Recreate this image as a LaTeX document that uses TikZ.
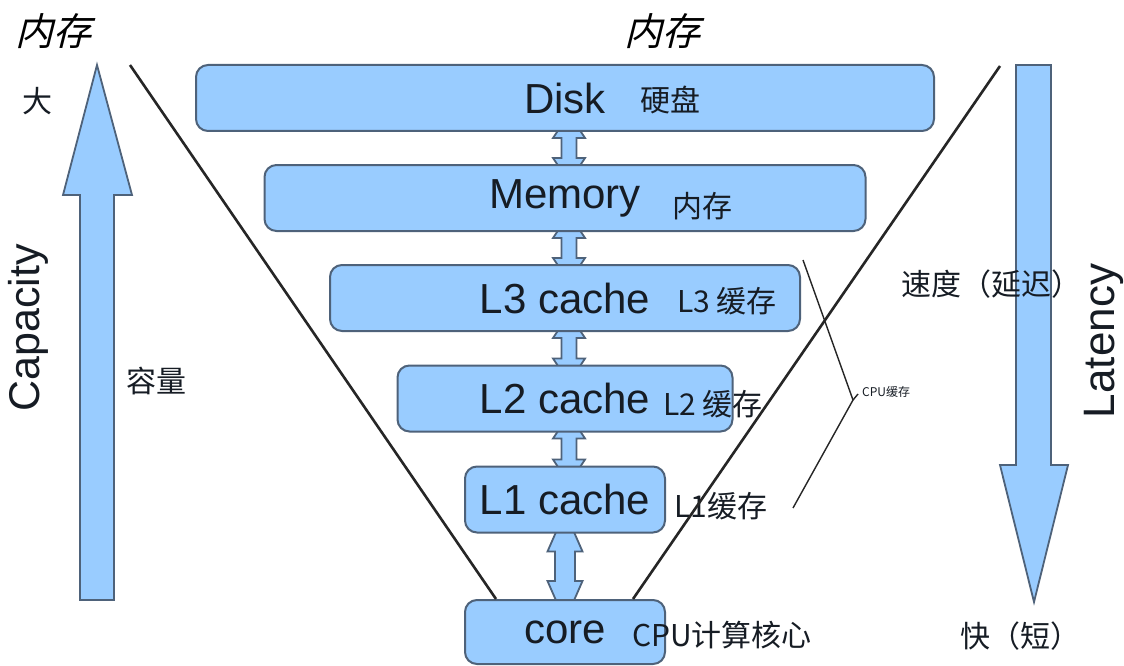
\documentclass[tikz,border=0pt]{standalone}
\usepackage{fontspec}
\setmainfont{Liberation Sans}
\newfontfamily\cjk{Noto Sans CJK SC}
\newfontfamily\cjkit[FakeSlant=0.25]{Noto Sans CJK SC}
\usetikzlibrary{calc}
\pgfdeclarelayer{paper}
\pgfdeclarelayer{background}
\pgfsetlayers{paper,background,main}

\definecolor{boxfill}{RGB}{153,204,255}
\definecolor{boxline}{RGB}{78,98,122}
\definecolor{ink}{RGB}{22,28,36}

% two-headed link between a box and the one below it; the tips sit inside the boxes
% #1 upper node, #2 lower node, #3 x shift, #4 shaft half width, #5 head half width,
% #6 head length, #7 tip depth inside the box
\newcommand\linkarrow[7]{%
  \draw[flow] let \p1=(#1.south), \p2=(#2.north) in
    (\x1+#3pt, \y1+#7pt)
    -- (\x1+#3pt+#5pt, \y1+#7pt-#6pt)
    -- (\x1+#3pt+#4pt, \y1+#7pt-#6pt)
    -- (\x1+#3pt+#4pt, \y2-#7pt+#6pt)
    -- (\x1+#3pt+#5pt, \y2-#7pt+#6pt)
    -- (\x1+#3pt, \y2-#7pt)
    -- (\x1+#3pt-#5pt, \y2-#7pt+#6pt)
    -- (\x1+#3pt-#4pt, \y2-#7pt+#6pt)
    -- (\x1+#3pt-#4pt, \y1+#7pt-#6pt)
    -- (\x1+#3pt-#5pt, \y1+#7pt-#6pt)
    -- cycle;}

\tikzset{
  level/.style={draw=boxline, line width=2pt, fill=boxfill, rounded corners=12pt,
    minimum height=66pt, inner sep=0pt, text=ink,
    font=\fontsize{42}{42}\selectfont},
  flow/.style={draw=boxline, line width=1.8pt, fill=boxfill, line join=miter},
  cjklab/.style={text=ink, inner sep=0pt, font=\cjk\fontsize{30}{30}\selectfont},
  biglab/.style={text=ink, inner sep=0pt},
  toplab/.style={text=black, inner sep=0pt, font=\cjkit\fontsize{38}{38}\selectfont},
  funnel/.style={draw=black!85, line width=2.6pt},
  brace/.style={draw=black!85, line width=1.4pt},
}

\begin{document}
\begin{tikzpicture}[x=1pt, y=-1pt]
\useasboundingbox (0,0) rectangle (1124,666);
\begin{pgfonlayer}{paper}
  \fill[white] (0,0) rectangle (1124,666);
\end{pgfonlayer}

% memory hierarchy boxes
\node[level, minimum width=738pt] (disk) at (565,98) {Disk};
\node[level, minimum width=601pt] (mem)  at (565,198) {Memory};
\node[level, minimum width=470pt] (l3)   at (565,298) {L3 cache};
\node[level, minimum width=335pt] (l2)   at (565,398.5) {L2 cache};
\node[level, minimum width=200pt] (l1)   at (565,499.5) {L1 cache};
\node[level, minimum width=200pt, minimum height=64pt] (core) at (565,632) {core};

% links between neighbouring levels
\begin{pgfonlayer}{background}
  \linkarrow{disk}{mem}{4}{7.5}{16}{24}{18}
  \linkarrow{mem}{l3}{4}{7.5}{16}{24}{18}
  \linkarrow{l3}{l2}{4}{7.5}{16}{24}{18}
  \linkarrow{l2}{l1}{4}{7.5}{16}{24}{18}
  \linkarrow{l1}{core}{0}{10}{17.5}{40}{22}
\end{pgfonlayer}

% labels beside the boxes
\node[cjklab] (diskcn) at (670,100) {硬盘};
\node[cjklab] (memcn)  at (702,206) {内存};
\node[cjklab] (l3cn)   at (727,301) {L3 缓存};
\node[cjklab] (l2cn)   at (713,404) {L2 缓存};
\node[cjklab] (l1cn)   at (721,506) {L1缓存};
\node[cjklab] (corecn) at (722,635) {CPU计算核心};

% funnel sides
\coordinate (fl) at (130,65);
\coordinate (fr) at (1000,66);
\draw[funnel] (fl) -- ([xshift=32pt]core.north west);
\draw[funnel] (fr) -- ([xshift=-33pt]core.north east);

% bracket grouping the CPU caches
\coordinate (bt) at (803,260);
\coordinate (bv) at (853,400);
\coordinate (bb) at (793,508);
\draw[brace] (bt) -- (bv) -- (bb);
\draw[brace] (bv) -- ++(5,-6);
\node[text=ink, inner sep=0pt, anchor=west, font=\cjk\fontsize{12}{12}\selectfont] (cpucache) at (862,392) {CPU缓存};

% capacity axis
\draw[flow] (80,600) -- (80,195) -- (63,195) -- (97,65) -- (132,195) -- (114,195) -- (114,600) -- cycle;
\node[biglab, rotate=90, anchor=base, font=\fontsize{43}{43}\selectfont] (cap) at (39,328) {Capacity};
\node[cjklab] (big) at (37,101) {大};
\node[cjklab] (capcn) at (156,381) {容量};

% latency axis
\draw[flow] (1016,65) -- (1051,65) -- (1051,465) -- (1068,465) -- (1034,602) -- (1000,465) -- (1016,465) -- cycle;
\node[biglab, rotate=90, anchor=base, font=\fontsize{44}{44}\selectfont] (lat) at (1114,341) {Latency};
\node[cjklab] (speed) at (991,284) {速度（延迟）};
\node[cjklab] (fast) at (1020,636) {快（短）};

% headings
\node[toplab] (h1) at (54,31) {内存};
\node[toplab] (h2) at (662,31) {内存};
\end{tikzpicture}
\end{document}
